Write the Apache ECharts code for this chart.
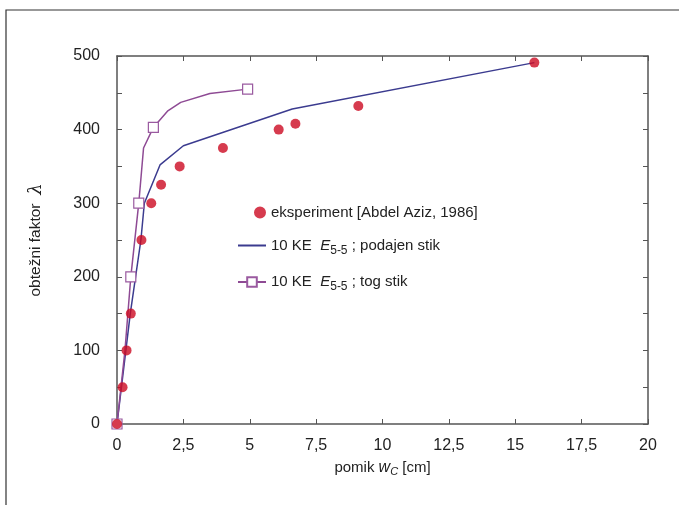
<!DOCTYPE html>
<html><head><meta charset="utf-8">
<script src="https://cdn.jsdelivr.net/npm/echarts@6/dist/echarts.min.js"></script>
<style>html,body{margin:0;padding:0;background:#fff}#c{width:679px;height:505px}</style>
</head><body><div id="c"></div>
<script>
var seriesNames = ['eksperiment [Abdel Aziz, 1986]', '10 KE E5-5 ; podajen stik', '10 KE E5-5 ; tog stik'];
var expX = [0, 0.21, 0.36, 0.52, 0.92, 1.29, 1.66, 2.36, 3.99, 6.09, 6.72, 9.09, 15.72];
var expY = [0, 50, 100, 150, 250, 300, 325, 350, 375, 400, 408, 432, 491];
var podX = [0, 0.5, 0.9, 1.03, 1.62, 2.5, 6.6, 15.72];
var podY = [0, 150, 250, 300, 352, 378, 428, 491];
var togX = [0, 0.3, 0.52, 0.82, 1.0, 1.37, 1.9, 2.4, 3.5, 4.92];
var togY = [0, 100, 200, 300, 375, 403, 425, 437, 449, 455];
var togMarkerIdx = [0, 2, 3, 5, 9];
var xTicks = [0, 2.5, 5, 7.5, 10, 12.5, 15, 17.5, 20];
var yTicks = [0, 100, 200, 300, 400, 500];

function zip(a, b) { return a.map(function (v, i) { return [v, b[i]]; }); }
var FONT = '"Liberation Sans", Arial, sans-serif';
var axisColor = '#555';
var chart = echarts.init(document.getElementById('c'));
var richLeg = {
  a: { fontSize: 15, fontFamily: FONT, color: '#222' },
  e: { fontSize: 15, fontFamily: FONT, fontStyle: 'italic', color: '#222' },
  s: { fontSize: 12, fontFamily: FONT, color: '#222', padding: [10, 0, 0, 0] }
};
var commonX = {
  type: 'value', min: 0, max: 20, interval: 2.5,
  axisLine: { show: true, onZero: false, lineStyle: { color: axisColor, width: 1.5 } },
  axisTick: { show: true, inside: true, length: 5, lineStyle: { color: axisColor } },
  splitLine: { show: false }
};
var commonY = {
  type: 'value', min: 0, max: 500, interval: 100,
  axisLine: { show: true, onZero: false, lineStyle: { color: axisColor, width: 1.5 } },
  axisTick: { show: true, inside: true, length: 5, lineStyle: { color: axisColor } },
  minorTick: { show: true, splitNumber: 2, length: 5, lineStyle: { color: axisColor } },
  splitLine: { show: false }
};
chart.setOption({
  animation: false,
  backgroundColor: '#fff',
  grid: { left: 117, right: 31, top: 56, bottom: 81 },
  graphic: [{ type: 'rect', shape: { x: 6, y: 10, width: 720, height: 540 }, style: { fill: 'none', stroke: '#333', lineWidth: 1.2 }, silent: true }],
  xAxis: [
    Object.assign({}, commonX, {
      position: 'bottom',
      axisLabel: { fontSize: 16, fontFamily: FONT, color: '#222', margin: 14,
        formatter: function (v) { return xTicks.indexOf(v) >= 0 ? String(v).replace('.', ',') : ''; } },
      name: '{a|pomik }{w|w}{s|C}{a| [cm]}', nameLocation: 'middle', nameGap: 34,
      nameTextStyle: { rich: {
        a: { fontSize: 15, fontFamily: FONT, color: '#222' },
        w: { fontSize: 16, fontFamily: FONT, fontStyle: 'italic', color: '#222' },
        s: { fontSize: 11, fontFamily: FONT, fontStyle: 'italic', color: '#222', padding: [8, 0, 0, 0] } } }
    }),
    Object.assign({}, commonX, { position: 'top', axisLabel: { show: false } })
  ],
  yAxis: [
    Object.assign({}, commonY, {
      position: 'left',
      axisLabel: { fontSize: 16, fontFamily: FONT, color: '#222', margin: 17,
        formatter: function (v) { return yTicks.indexOf(v) >= 0 ? String(v) : ''; } },
      name: '{a|obtežni faktor  }{l|λ}', nameLocation: 'middle', nameGap: 72,
      nameTextStyle: { rich: {
        a: { fontSize: 15.5, fontFamily: FONT, color: '#222' },
        l: { fontSize: 18, fontFamily: '"DejaVu Serif", serif', fontStyle: 'italic', color: '#222' } } }
    }),
    Object.assign({}, commonY, { position: 'right', axisLabel: { show: false } })
  ],
  legend: {
    orient: 'vertical', left: 232, top: 200, itemGap: 18, itemWidth: 28, itemHeight: 12,
    data: [
      { name: seriesNames[0], icon: 'path://M0,5.9L0.02,6L0,6.1ZM16,6A6,6,0,1,0,28,6A6,6,0,1,0,16,6Z' },
      { name: seriesNames[1], itemStyle: { color: 'rgba(0,0,0,0)', borderWidth: 0 } },
      { name: seriesNames[2] }
    ],
    formatter: function (n) {
      if (n === seriesNames[0]) return '{a|' + n + '}';
      var tail = n === seriesNames[1] ? ' ; podajen stik' : ' ; tog stik';
      return '{a|10 KE  }{e|E}{s|5-5}{a|' + tail + '}';
    },
    textStyle: { rich: richLeg }
  },
  series: [
    { name: seriesNames[1], type: 'line', data: zip(podX, podY), symbol: 'none',
      lineStyle: { color: '#3b3b8f', width: 1.5 }, itemStyle: { color: '#3b3b8f' }, z: 2 },
    { name: seriesNames[2], type: 'line', data: zip(togX, togY), symbol: 'rect',
      symbolSize: function (v, p) { return togMarkerIdx.indexOf(p.dataIndex) >= 0 ? 10 : 0; },
      lineStyle: { color: '#8e4a94', width: 1.5 },
      itemStyle: { color: '#fff', borderColor: '#9a5aa0', borderWidth: 1.2 }, z: 3 },
    { name: seriesNames[0], type: 'scatter', data: zip(expX, expY), symbol: 'circle', symbolSize: 10,
      itemStyle: { color: '#cc0a22' }, z: 4 }
  ]
});
</script></body></html>
